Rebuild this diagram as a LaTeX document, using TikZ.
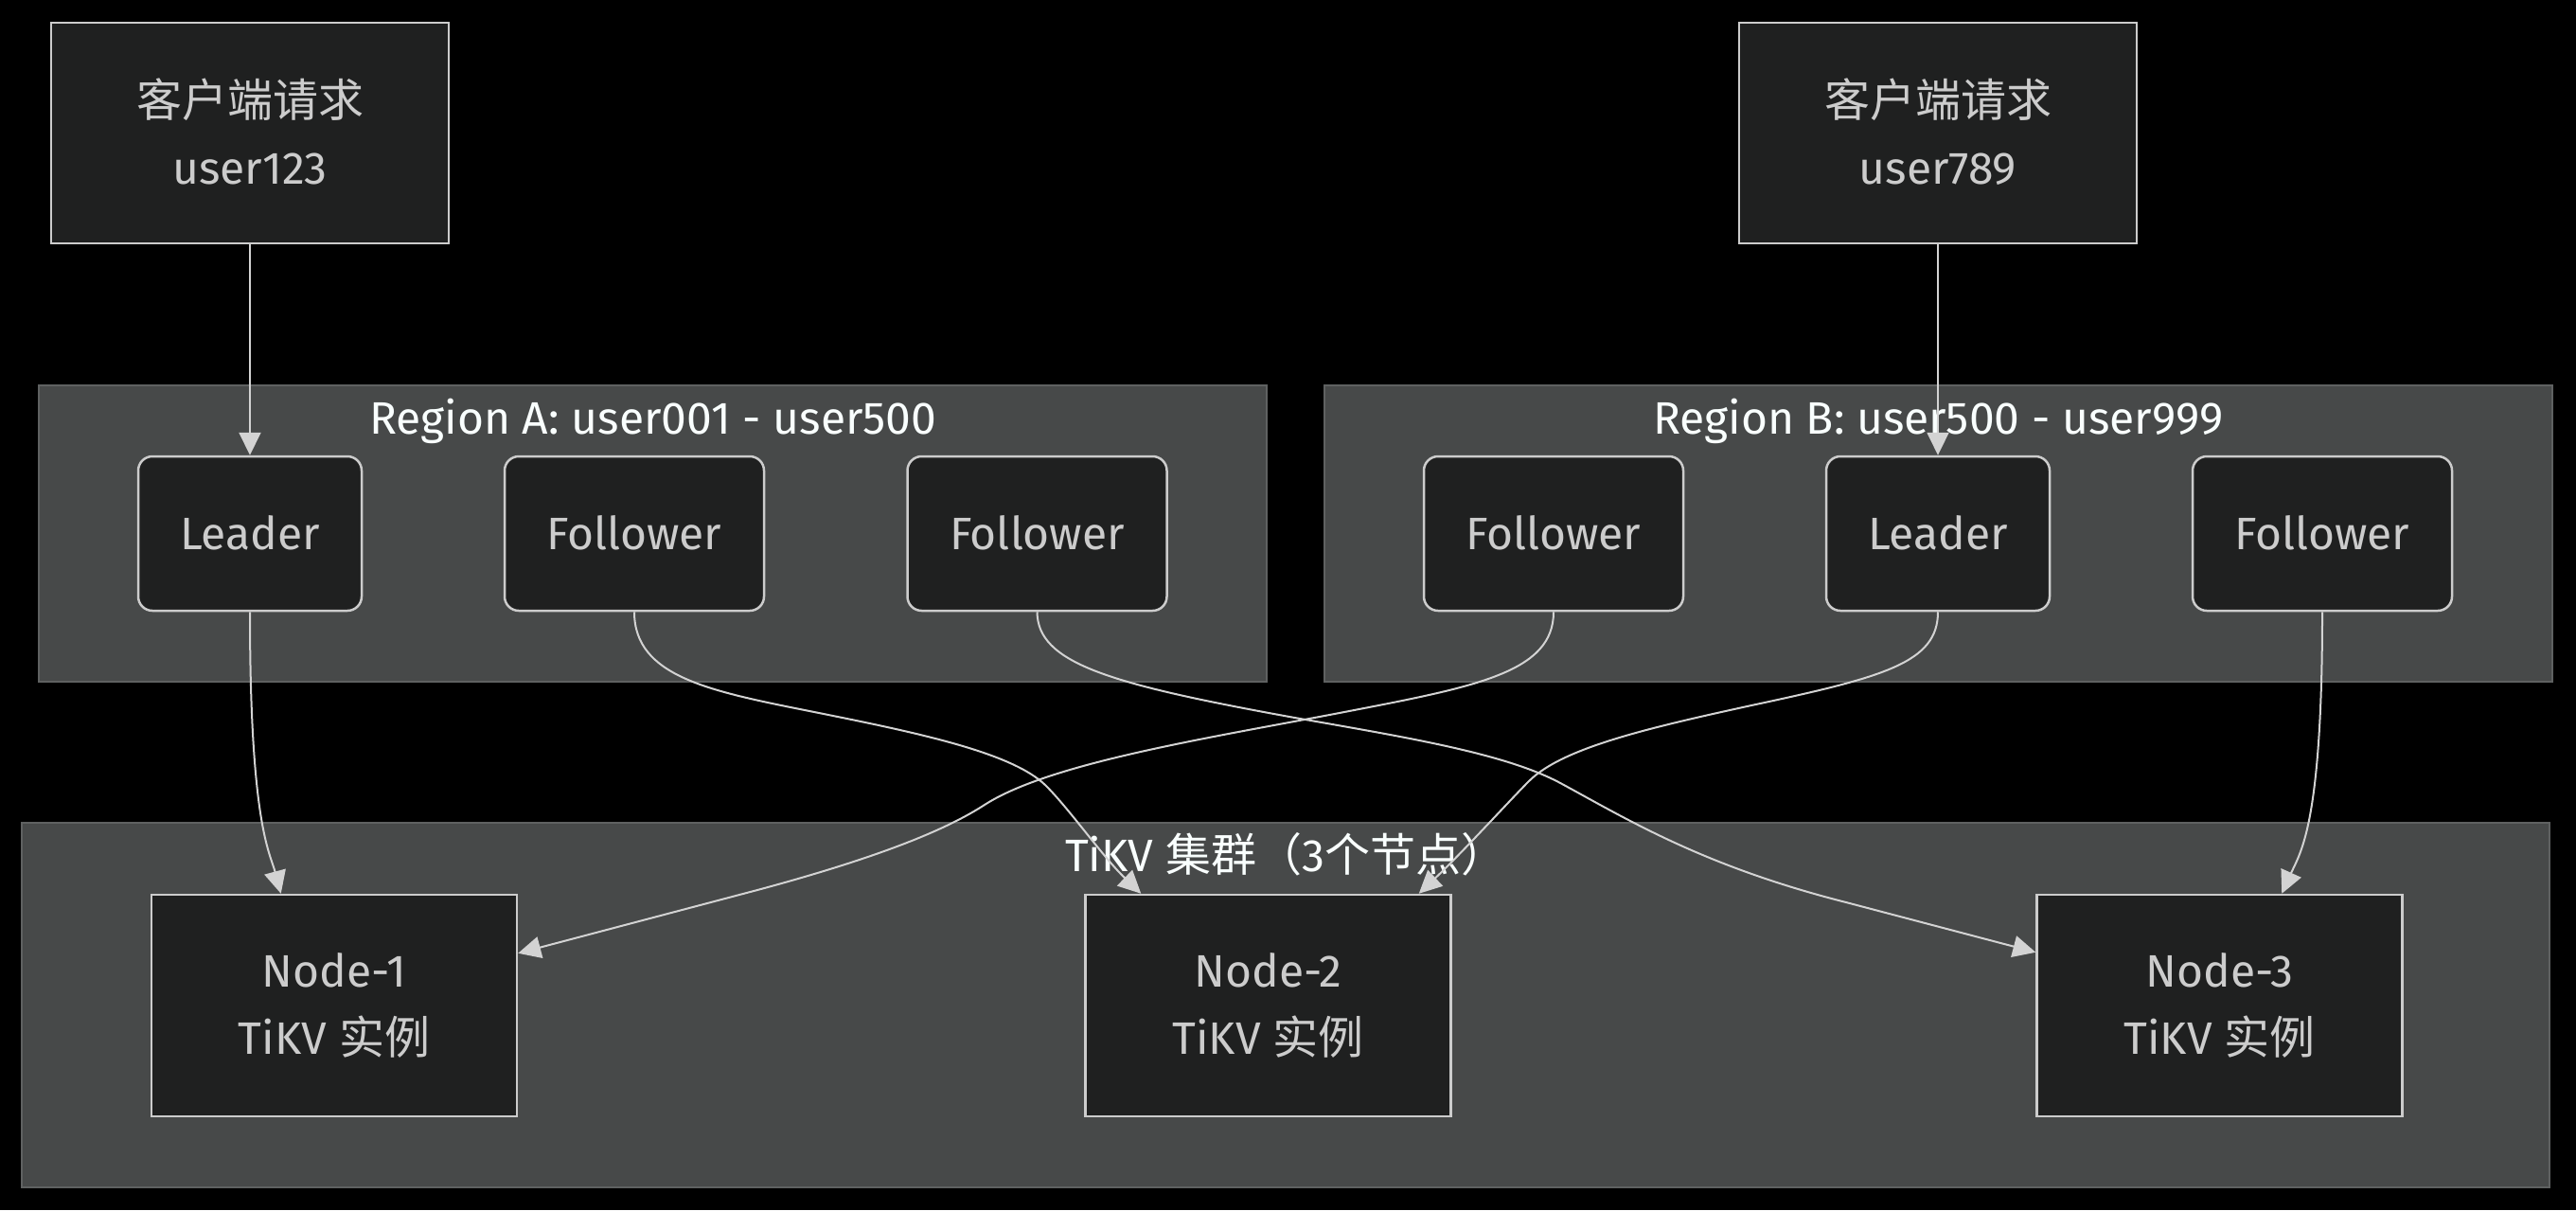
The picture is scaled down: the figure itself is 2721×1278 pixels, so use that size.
\documentclass[tikz,border=0pt]{standalone}
\usepackage{fontspec}
\setmainfont{Fira Sans}
\newfontfamily\cjk{Noto Sans CJK SC}
\usetikzlibrary{arrows.meta,calc}
\definecolor{clfill}{HTML}{474949}
\definecolor{clline}{HTML}{5F6161}
\definecolor{ndfill}{HTML}{1F2020}
\definecolor{ndline}{HTML}{CCCCCC}
\definecolor{ndtext}{HTML}{CCCCCC}
\definecolor{ttext}{HTML}{F9FFFE}
\definecolor{edgec}{HTML}{D3D3D3}
\newcommand{\up}[1]{\raisebox{3pt}{#1}}
\begin{document}
\begin{tikzpicture}[x=1pt,y=-1pt,
  every node/.style={font=\fontsize{48}{71}\selectfont},
  cluster/.style={draw=clline, fill=clfill, line width=2pt, inner sep=0pt},
  sqbox/.style={draw=ndline, fill=ndfill, line width=2.5pt, text=ndtext, inner sep=0pt, align=center},
  rbox/.style={sqbox, rounded corners=15pt, minimum height=163pt},
  ttl/.style={text=ttext, inner sep=0pt, anchor=base},
  edge/.style={draw=edgec, line width=2pt, -{Triangle[length=24pt,width=23pt]}}
]
\fill[black] (0,0) rectangle (2721,1278);
\useasboundingbox (0,0) rectangle (2721,1278);

% clusters
\node[cluster, minimum width=1297pt, minimum height=313pt] (ra) at (689.5,563.5) {};
\node[cluster, minimum width=1297pt, minimum height=313pt] (rb) at (2047.5,563.5) {};
\node[cluster, minimum width=2670pt, minimum height=385pt] (tk) at (1358,1061.5) {};
\node[ttl] (rat) at (689.5,458) {Region A: user001 - user500};
\node[ttl] (rbt) at (2047.5,458) {Region B: user500 - user999};
\node[ttl] (tkt) at (1358,920) {TiKV {\cjk 集群（}3{\cjk 个节点）}};

% clients
\node[sqbox, minimum width=420pt, minimum height=233pt] (ca) at (264,140.5) {\up{{\cjk 客户端请求}}\\\up{user123}};
\node[sqbox, minimum width=420pt, minimum height=233pt] (cb) at (2047,140.5) {\up{{\cjk 客户端请求}}\\\up{user789}};

% region A
\node[rbox, minimum width=236pt] (la) at (264,563.5) {\up{Leader}};
\node[rbox, minimum width=274pt] (fa1) at (670,563.5) {\up{Follower}};
\node[rbox, minimum width=274pt] (fa2) at (1095.5,563.5) {\up{Follower}};
% region B
\node[rbox, minimum width=274pt] (fb1) at (1641,563.5) {\up{Follower}};
\node[rbox, minimum width=236pt] (lb) at (2047,563.5) {\up{Leader}};
\node[rbox, minimum width=274pt] (fb2) at (2453,563.5) {\up{Follower}};

% tikv nodes
\node[sqbox, minimum width=386pt, minimum height=234pt] (n1) at (353,1062) {Node-1\\TiKV {\cjk 实例}};
\node[sqbox, minimum width=386pt, minimum height=234pt] (n2) at (1339.5,1062) {Node-2\\TiKV {\cjk 实例}};
\node[sqbox, minimum width=386pt, minimum height=234pt] (n3) at (2344.5,1062) {Node-3\\TiKV {\cjk 实例}};

% edges
\draw[edge] (ca.south) -- (la.north);
\draw[edge] (cb.south) -- (lb.north);
\draw[edge] (la.south) .. controls (264,870) and (285,900) .. ($(n1.north west)+(138,0)$);
\draw[edge] (fa1.south) .. controls (670,715) and (750,730) .. (860,752)
  .. controls (970,774) and (1070,795) .. (1105,830)
  .. controls (1130,855) and (1165,905) .. ($(n2.north west)+(60,0)$);
\draw[edge] (fa2.south) .. controls (1096,700) and (1170,722) .. (1362,757)
  .. controls (1480,778) and (1590,795) .. (1650,828)
  .. controls (1720,866) and (1800,915) .. (1950,953)
  -- ($(n3.north west)+(0,62)$);
\draw[edge] (fb1.south) .. controls (1641,710) and (1560,725) .. (1420,752)
  .. controls (1280,779) and (1110,805) .. (1040,850)
  .. controls (1000,876) and (930,905) .. (800,940)
  -- ($(n1.north east)+(0,63)$);
\draw[edge] (lb.south) .. controls (2047,700) and (1990,715) .. (1850,745)
  .. controls (1740,769) and (1650,790) .. (1615,825)
  .. controls (1595,845) and (1545,900) .. ($(n2.north east)+(-35,0)$);
\draw[edge] (fb2.south) .. controls (2453,870) and (2430,900) .. ($(n3.north west)+(260,0)$);
\end{tikzpicture}
\end{document}
